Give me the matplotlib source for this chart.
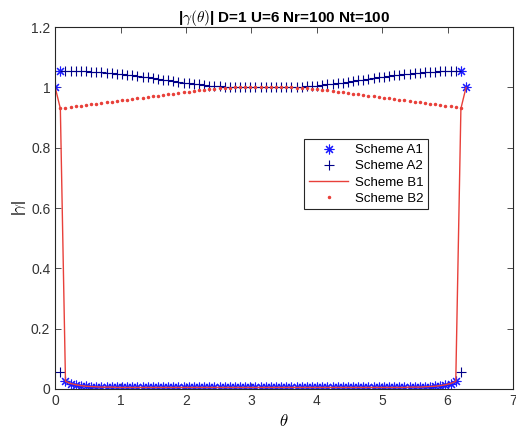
import numpy as np
import matplotlib
matplotlib.use("Agg")
import matplotlib.pyplot as plt

plt.rcParams['font.family'] = ['Liberation Sans', 'DejaVu Sans']
plt.rcParams['mathtext.fontset'] = 'cm'

# theta grid: 81 samples over [0, 2*pi]
theta = np.linspace(0, 2 * np.pi, 81)

# upper branch (index 2..78), symmetric about pi
upper_A = [1.055, 1.055, 1.054, 1.054, 1.053, 1.052, 1.051, 1.050, 1.049,
           1.047, 1.046, 1.044, 1.042, 1.040, 1.038, 1.036, 1.034, 1.031,
           1.029, 1.026, 1.024, 1.021, 1.019, 1.016, 1.014, 1.012, 1.010,
           1.008, 1.006, 1.005, 1.004, 1.003, 1.002, 1.002, 1.001, 1.001,
           1.001, 1.001, 1.001, 1.001, 1.001, 1.001, 1.001, 1.001, 1.002,
           1.002, 1.003, 1.004, 1.005, 1.006, 1.008, 1.010, 1.012, 1.014,
           1.016, 1.019, 1.021, 1.024, 1.026, 1.029, 1.031, 1.034, 1.036,
           1.038, 1.040, 1.042, 1.044, 1.046, 1.047, 1.049, 1.050, 1.051,
           1.052, 1.053, 1.054, 1.054, 1.055]

upper_B = [0.933, 0.935, 0.937, 0.940, 0.942, 0.944, 0.946, 0.948, 0.951,
           0.953, 0.955, 0.957, 0.959, 0.962, 0.964, 0.966, 0.968, 0.971,
           0.973, 0.975, 0.977, 0.979, 0.982, 0.984, 0.986, 0.988, 0.990,
           0.992, 0.994, 0.996, 0.997, 0.998, 0.999, 1.000, 1.000, 1.000,
           1.000, 1.000, 1.000, 1.000, 1.000, 1.000, 1.000, 1.000, 1.000,
           0.999, 0.998, 0.997, 0.996, 0.994, 0.992, 0.990, 0.988, 0.986,
           0.984, 0.982, 0.979, 0.977, 0.975, 0.973, 0.971, 0.968, 0.966,
           0.964, 0.962, 0.959, 0.957, 0.955, 0.953, 0.951, 0.948, 0.946,
           0.944, 0.942, 0.940, 0.937, 0.935]

# lower branch (index 2..78)
lower = [0.025, 0.018, 0.014, 0.011, 0.009, 0.008, 0.007, 0.006, 0.006,
         0.006, 0.005, 0.005, 0.005, 0.005, 0.005, 0.005, 0.005, 0.005,
         0.005, 0.005, 0.005, 0.005, 0.005, 0.005, 0.005, 0.005, 0.005,
         0.005, 0.005, 0.005, 0.005, 0.005, 0.005, 0.005, 0.005, 0.005,
         0.005, 0.005, 0.005, 0.005, 0.005, 0.005, 0.005, 0.005, 0.005,
         0.005, 0.005, 0.005, 0.005, 0.005, 0.005, 0.005, 0.005, 0.005,
         0.005, 0.005, 0.005, 0.005, 0.005, 0.005, 0.005, 0.005, 0.005,
         0.005, 0.005, 0.005, 0.005, 0.006, 0.006, 0.006,
         0.007, 0.008, 0.009, 0.011, 0.014, 0.018, 0.025]

A1 = [1.0, 1.055] + lower + [1.055, 1.0]
A2 = [0.055] + upper_A + [0.055]          # index 1..79
B1 = [1.0, 0.930] + lower + [0.930, 1.0]
B2 = [0.932] + upper_B + [0.932]          # index 1..79

fig = plt.figure(figsize=(5.16, 4.38), dpi=100)
ax = fig.add_axes([0.107, 0.112, 0.887, 0.826])

# asterisk = '+' and 'x' overlaid
ax.plot(theta, A1, linestyle='none', marker=(8, 2, 0), color='#1a1aff',
        ms=7, mew=0.8, label='Scheme A1')
ax.plot(theta[1:80], A2, '+', color='#000088', ms=7, mew=0.8, label='Scheme A2')
ax.plot(theta, B1, '-', color='#e8403a', lw=1.0, label='Scheme B1')
ax.plot(theta[1:80], B2, '.', color='#e8403a', ms=3, label='Scheme B2')

ax.set_xlim(0, 7)
ax.set_ylim(0, 1.2)
ax.set_xticks(range(8))
ax.set_yticks([0, 0.2, 0.4, 0.6, 0.8, 1.0, 1.2])
ax.set_yticklabels(['0', '0.2', '0.4', '0.6', '0.8', '1', '1.2'])
ax.tick_params(direction='in', top=True, right=True, labelsize=10,
               colors='#333333', length=4, width=0.6)
for s in ax.spines.values():
    s.set_linewidth(0.8)
    s.set_color('#262626')

ax.set_title(r'|$\gamma(\theta)$| D=1 U=6 Nr=100 Nt=100', fontsize=11,
             fontweight='bold', pad=4)
ax.set_xlabel(r'$\theta$', fontsize=12)
ax.set_ylabel(r'|$\gamma$|', fontsize=11, labelpad=2)

leg = ax.legend(loc='upper left', bbox_to_anchor=(0.544, 0.69), fontsize=9.5,
                fancybox=False, edgecolor='#262626', framealpha=1,
                handlelength=3.0, handletextpad=0.5, borderpad=0.35,
                labelspacing=0.3, borderaxespad=0)
leg.get_frame().set_linewidth(0.8)

fig.savefig('out.png', dpi=100)
